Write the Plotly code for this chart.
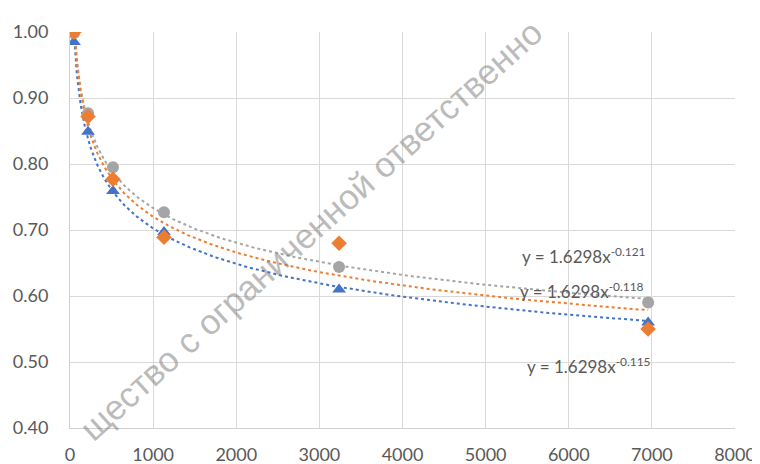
import numpy as np
import plotly.graph_objects as go

# Data
x_vals = [48, 217, 517, 1131, 3237, 6955]
blue_vals = [0.985, 0.849, 0.759, 0.697, 0.610, 0.560]
gray_vals = [0.998, 0.877, 0.795, 0.727, 0.644, 0.590]
orange_vals = [1.000, 0.872, 0.777, 0.689, 0.680, 0.550]

x_ticks = [0, 1000, 2000, 3000, 4000, 5000, 6000, 7000, 8000]
y_ticks = [0.40, 0.50, 0.60, 0.70, 0.80, 0.90, 1.00]

eq_texts = ["y = 1.6298x<sup>-0.121</sup>",
            "y = 1.6298x<sup>-0.118</sup>",
            "y = 1.6298x<sup>-0.115</sup>"]
eq_x = [5415, 5390, 5475]
eq_y = [0.662, 0.609, 0.495]

watermark = "щество с ограниченной ответственно"

BLUE = "#4472C4"
ORANGE = "#ED7D31"
GRAY = "#A5A5A5"

fig = go.Figure()

xs = np.array(x_vals, dtype=float)
grid = np.geomspace(xs.min(), xs.max(), 200)


def power_fit(yv):
    b, a = np.polyfit(np.log(xs), np.log(np.array(yv, dtype=float)), 1)
    return np.exp(a) * grid ** b


for vals, col in [(blue_vals, BLUE), (gray_vals, GRAY), (orange_vals, ORANGE)]:
    fig.add_trace(go.Scatter(x=grid, y=power_fit(vals), mode="lines",
                             line=dict(color=col, width=2, dash="dot"),
                             hoverinfo="skip", showlegend=False))

for vals, col, sym in [(blue_vals, BLUE, "triangle-up"),
                       (gray_vals, GRAY, "circle"),
                       (orange_vals, ORANGE, "diamond")]:
    fig.add_trace(go.Scatter(x=x_vals, y=vals, mode="markers",
                             marker=dict(color=col, symbol=sym, size=12),
                             showlegend=False))

for t, ex, ey in zip(eq_texts, eq_x, eq_y):
    fig.add_annotation(x=ex, y=ey, text=t, showarrow=False, xanchor="left",
                       yanchor="middle",
                       font=dict(family="Lato", size=17, color="#595959"))

fig.add_annotation(xref="paper", yref="paper", x=0.361, y=0.50,
                   text=watermark, showarrow=False, textangle=-42,
                   font=dict(family="Liberation Sans", size=35,
                             color="rgba(120,120,120,0.5)"))

fig.update_layout(
    width=752, height=456,
    margin=dict(l=62, r=25, t=24, b=36, autoexpand=False),
    paper_bgcolor="white", plot_bgcolor="white",
    showlegend=False,
    font=dict(family="Lato", size=18, color="#595959"),
)
fig.update_xaxes(range=[0, 8000], tickvals=x_ticks, automargin=False,
                 showgrid=True, gridcolor="#D9D9D9", gridwidth=1,
                 showline=True, linecolor="#D0D0D0", linewidth=1,
                 zeroline=False, ticks="", ticklabelstandoff=10)
fig.update_yaxes(range=[0.40, 1.00], tickvals=y_ticks, tickformat=".2f",
                 automargin=False,
                 showgrid=True, gridcolor="#D9D9D9", gridwidth=1,
                 showline=True, linecolor="#D0D0D0", linewidth=1,
                 zeroline=False, ticks="", ticklabelstandoff=17)

fig.write_html("out.html")
